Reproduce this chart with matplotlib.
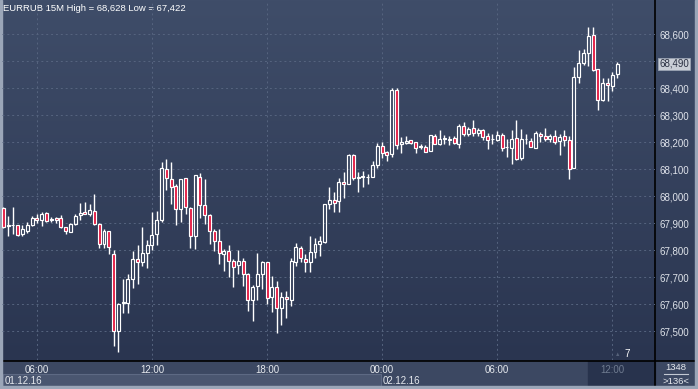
import numpy as np
import matplotlib
matplotlib.use('Agg')
import matplotlib.pyplot as plt
import matplotlib.transforms as mtrans
from matplotlib.patches import Rectangle
from matplotlib.colors import LinearSegmentedColormap

plt.rcParams['font.family'] = ['Liberation Sans', 'DejaVu Sans']

# EURRUB 15M candles, 01.12.16 04:15 .. 02.12.16 12:15
opens = [67.956, 67.890, 67.894, 67.894, 67.859, 67.872, 67.894, 67.921, 67.911, 67.937,
         67.911, 67.920, 67.918, 67.886, 67.869, 67.899, 67.930, 67.940, 67.933, 67.946,
         67.899, 67.822, 67.872, 67.785, 67.501, 67.606, 67.606, 67.693, 67.767, 67.757,
         67.789, 67.819, 67.859, 67.913, 68.100, 68.063, 68.037, 67.952, 68.067, 67.956,
         67.852, 68.073, 67.967, 67.930, 67.870, 67.833, 67.785, 67.797, 67.759, 67.744,
         67.759, 67.711, 67.617, 67.667, 67.713, 67.756, 67.628, 67.664, 67.585, 67.627,
         67.615, 67.756, 67.807, 67.768, 67.756, 67.793, 67.822, 67.832, 67.970, 67.985,
         67.983, 68.052, 68.044, 68.152, 68.069, 68.072, 68.070, 68.073, 68.115, 68.186,
         68.164, 68.156, 68.393, 68.193, 68.196, 68.207, 68.201, 68.183, 68.183, 68.168,
         68.223, 68.193, 68.213, 68.210, 68.215, 68.195, 68.260, 68.230, 68.252, 68.233,
         68.244, 68.223, 68.211, 68.207, 68.227, 68.181, 68.179, 68.216, 68.142, 68.211,
         68.204, 68.179, 68.231, 68.223, 68.211, 68.223, 68.204, 68.223, 68.210, 68.105,
         68.443, 68.493, 68.531, 68.598, 68.470, 68.357, 68.420, 68.409, 68.453]
highs = [67.962, 67.927, 67.960, 67.895, 67.894, 67.906, 67.927, 67.933, 67.940, 67.940,
         67.924, 67.922, 67.929, 67.887, 67.902, 67.936, 67.977, 67.980, 67.973, 68.010,
         67.902, 67.878, 67.872, 67.800, 67.606, 67.692, 67.714, 67.798, 67.820, 67.886,
         67.837, 67.940, 67.946, 68.127, 68.138, 68.127, 68.044, 68.063, 68.069, 67.960,
         68.078, 68.085, 68.063, 67.933, 67.878, 67.878, 67.804, 67.820, 67.767, 67.801,
         67.770, 67.717, 67.671, 67.789, 67.760, 67.756, 67.705, 67.686, 67.647, 67.649,
         67.773, 67.826, 67.815, 67.785, 67.853, 67.847, 67.853, 67.973, 68.035, 68.017,
         68.067, 68.090, 68.156, 68.156, 68.090, 68.094, 68.084, 68.131, 68.199, 68.201,
         68.168, 68.400, 68.402, 68.220, 68.223, 68.207, 68.201, 68.193, 68.189, 68.226,
         68.230, 68.244, 68.227, 68.222, 68.223, 68.269, 68.275, 68.258, 68.281, 68.254,
         68.248, 68.233, 68.230, 68.240, 68.236, 68.212, 68.246, 68.283, 68.249, 68.231,
         68.216, 68.243, 68.237, 68.253, 68.231, 68.246, 68.231, 68.246, 68.225, 68.478,
         68.542, 68.546, 68.626, 68.628, 68.470, 68.438, 68.438, 68.462, 68.499]
lows = [67.882, 67.853, 67.860, 67.853, 67.853, 67.865, 67.890, 67.902, 67.890, 67.905,
        67.906, 67.900, 67.883, 67.859, 67.869, 67.894, 67.913, 67.933, 67.927, 67.894,
        67.810, 67.810, 67.788, 67.446, 67.422, 67.569, 67.569, 67.662, 67.674, 67.742,
        67.733, 67.800, 67.820, 67.906, 68.022, 67.970, 67.894, 67.906, 67.933, 67.810,
        67.806, 67.921, 67.899, 67.825, 67.796, 67.751, 67.725, 67.700, 67.665, 67.711,
        67.668, 67.577, 67.537, 67.615, 67.657, 67.600, 67.573, 67.495, 67.523, 67.550,
        67.595, 67.740, 67.758, 67.721, 67.721, 67.773, 67.779, 67.828, 67.954, 67.940,
        67.940, 67.995, 68.044, 68.059, 68.017, 68.036, 68.047, 68.070, 68.106, 68.143,
        68.131, 68.146, 68.174, 68.162, 68.193, 68.193, 68.162, 68.177, 68.164, 68.168,
        68.193, 68.189, 68.193, 68.189, 68.193, 68.180, 68.223, 68.223, 68.223, 68.223,
        68.207, 68.177, 68.193, 68.205, 68.168, 68.147, 68.120, 68.135, 68.135, 68.194,
        68.181, 68.179, 68.200, 68.204, 68.200, 68.194, 68.154, 68.188, 68.065, 68.105,
        68.418, 68.488, 68.484, 68.465, 68.320, 68.352, 68.354, 68.389, 68.437]
closes = [67.886, 67.895, 67.894, 67.856, 67.878, 67.894, 67.918, 67.911, 67.936, 67.909,
          67.915, 67.914, 67.887, 67.872, 67.896, 67.926, 67.937, 67.934, 67.948, 67.896,
          67.822, 67.872, 67.812, 67.501, 67.600, 67.610, 67.693, 67.767, 67.757, 67.789,
          67.819, 67.856, 67.911, 68.104, 68.067, 68.036, 67.952, 68.063, 67.960, 67.852,
          68.078, 67.967, 67.930, 67.870, 67.833, 67.789, 67.797, 67.759, 67.737, 67.759,
          67.711, 67.617, 67.665, 67.711, 67.756, 67.622, 67.664, 67.585, 67.627, 67.619,
          67.759, 67.811, 67.770, 67.756, 67.793, 67.822, 67.835, 67.970, 67.985, 67.977,
          68.052, 68.044, 68.152, 68.067, 68.070, 68.073, 68.071, 68.115, 68.186, 68.162,
          68.153, 68.393, 68.189, 68.201, 68.205, 68.199, 68.180, 68.184, 68.165, 68.226,
          68.195, 68.211, 68.214, 68.213, 68.199, 68.260, 68.230, 68.248, 68.233, 68.244,
          68.220, 68.207, 68.212, 68.227, 68.180, 68.182, 68.212, 68.138, 68.212, 68.212,
          68.181, 68.235, 68.223, 68.211, 68.223, 68.200, 68.221, 68.209, 68.101, 68.443,
          68.493, 68.531, 68.595, 68.469, 68.357, 68.420, 68.414, 68.449, 68.490]

time_ticks = [7, 31, 55, 79, 103, 127]
time_labels = ['06:00', '12:00', '18:00', '00:00', '06:00', '12:00']
day_starts = [0, 79]
day_labels = ['01.12.16', '02.12.16']
price_ticks = [67.5, 67.6, 67.7, 67.8, 67.9, 68.0, 68.1, 68.2, 68.3, 68.4, 68.5, 68.6]
# 68,500 is hidden behind the last-price marker
price_labels = ['67,500', '67,600', '67,700', '67,800', '67,900', '68,000',
                '68,100', '68,200', '68,300', '68,400', '', '68,600']
title = 'EURRUB 15M High = 68,628 Low = 67,422'
last_price = 68.490

W, H = 698, 389
fig = plt.figure(figsize=(W / 100, H / 100), dpi=100)

# background / frame in pixel coordinates
bg = fig.add_axes([0, 0, 1, 1])
bg.set_axis_off()
bg.set_xlim(0, W)
bg.set_ylim(H, 0)
grad = np.linspace(0, 1, 256)[:, None]
cmap = LinearSegmentedColormap.from_list('bg', ['#3f4d69', '#2a3550'])
bg.imshow(grad, cmap=cmap, extent=[0, W, 361, 0], aspect='auto', zorder=0)
bg.add_patch(Rectangle((0, 361), W, 28, color='#3c4862', zorder=1))
bg.add_patch(Rectangle((3, 374), 378, 12, facecolor='#4a5670', edgecolor='#5d6983', lw=0.8, zorder=2))
bg.add_patch(Rectangle((588, 361), 67, 25, color='#28334d', zorder=2))
bg.plot([655, 655], [0, 386], color='black', lw=1.2, zorder=5)
bg.plot([0, W], [360.5, 360.5], color='black', lw=1.2, zorder=5)
# outer light border
for r in [(0, 0, 2, H), (W - 3, 0, 3, H), (0, H - 3, W, 3)]:
    bg.add_patch(Rectangle(r[:2], r[2], r[3], color='#9ba6b8', zorder=6))
bg.text(3, 8, title, color='white', fontsize=6.8, va='center', ha='left', zorder=7)
bg.text(676, 368, '1348', color='#e6e9ee', fontsize=6.8, va='center', ha='center', zorder=7)
bg.plot([664, 688], [374, 374], color='#c3c9d3', lw=0.8, zorder=7)
bg.text(676, 381, '>136<', color='#e6e9ee', fontsize=6.8, va='center', ha='center', zorder=7)
bg.text(627, 354, '7', color='white', fontsize=7, va='center', ha='center', zorder=7)
bg.text(618, 355, '\u25b2', color='#56627a', fontsize=4, va='center', ha='center', zorder=7)

ax = fig.add_axes([2 / W, 1 - 360 / H, 653 / W, 359 / H])
ax.patch.set_alpha(0)
ax.set_xlim(-0.27, 135.9)
ax.set_ylim(67.3937, 68.7233)
for s in ax.spines.values():
    s.set_visible(False)

ax.set_yticks(price_ticks, price_labels)
ax.yaxis.tick_right()
ax.set_xticks(time_ticks, time_labels)
ax.tick_params(axis='y', length=0, pad=3, labelsize=7, labelcolor='#dfe3ea')
ax.tick_params(axis='x', length=0, pad=3.5, labelsize=7, labelcolor='#e6e9ee')
ax.get_xticklabels()[-1].set_color('#6f7b90')
ax.grid(True, color='#56647f', lw=0.7, linestyle=(0, (2, 3)))
ax.set_axisbelow(True)

red = '#e3163f'
w = 0.62
for i, (o, h, l, c) in enumerate(zip(opens, highs, lows, closes)):
    top, bot = max(o, c), min(o, c)
    ax.vlines(i, top, h, color='white', lw=1.0, zorder=3)
    ax.vlines(i, l, bot, color='white', lw=1.0, zorder=3)
    if top - bot < 0.004:
        ax.add_patch(Rectangle((i - w / 2, bot), w, max(top - bot, 0.0015),
                               facecolor=red if c < o else 'white', edgecolor='white', lw=0.8, zorder=4))
    else:
        ax.add_patch(Rectangle((i - w / 2, bot), w, top - bot,
                               facecolor=red if c < o else 'none', edgecolor='white', lw=0.85, zorder=4))

xt = ax.get_xaxis_transform()
for d, lab in zip(day_starts, day_labels):
    ax.text(d + 0.2, -0.058, lab, transform=xt, color='#e6e9ee',
            fontsize=7, va='center', ha='left', clip_on=False)

yt = mtrans.blended_transform_factory(ax.transAxes, ax.transData)
ax.text(1 + 4 / 653, last_price, '68,490', transform=yt, color='#2a3042', fontsize=7,
        va='center', ha='left', clip_on=False, zorder=8,
        bbox=dict(boxstyle='square,pad=0.15', facecolor='#c9ced6', edgecolor='#9aa3b3', lw=0.6))

fig.savefig('out.png', dpi=100)
